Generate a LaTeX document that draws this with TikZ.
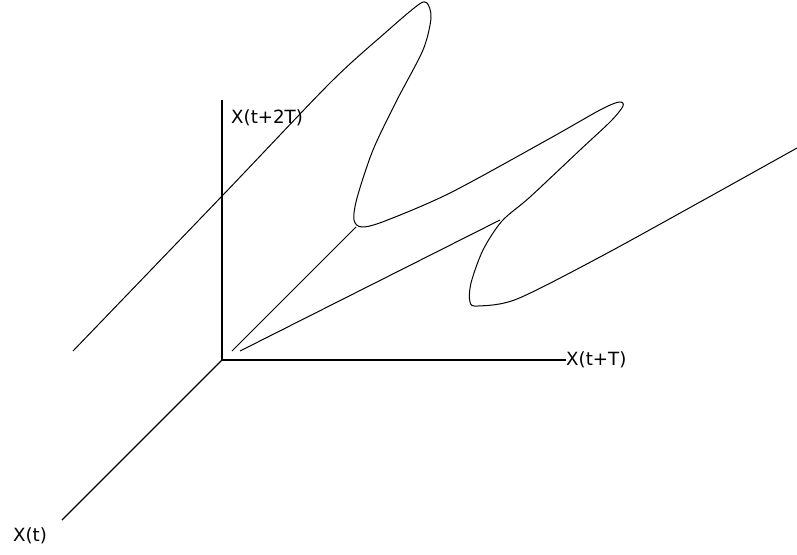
\documentclass[tikz,border=0pt]{standalone}
\usepackage{fontspec}
\setmainfont{DejaVu Sans}
\usetikzlibrary{positioning}

\begin{document}
\begin{tikzpicture}[x=1pt,y=-1pt,
  axis/.style={draw=black,line width=1.4pt},
  orbit/.style={draw=black,line width=1pt,line join=round},
  ray/.style={draw=black,line width=1pt},
  lbl/.style={font=\fontsize{18.2}{20}\selectfont,inner sep=0pt}
]
  \useasboundingbox (0,0) rectangle (797,554);

  % Axes
  \coordinate (O)    at (222,360);
  \coordinate (ztop) at (222,100);
  \coordinate (xend) at (566,360);
  \coordinate (tend) at (62,520);
  \draw[axis] (ztop) -- (O) -- (xend);
  \draw[axis] (O) -- (tend);
  \node[lbl,anchor=west] (zlab) at (231,118) {X(t+2T)};
  \node[lbl,anchor=west] (xlab) at (xend)    {X(t+T)};
  \node[lbl]             (tlab) at (30,536)  {X(t)};

  % Trajectory
  \draw[orbit] plot[smooth,tension=0.5] coordinates {
    (73,351) (223,195) (330,83) (385,33) (418,5) (427,3) (431,18) (423,50)
    (397,100) (373,150) (357,198) (354,220) (362,227) (385,221) (450,193)
    (547,140) (600,110) (619,102) (623,106) (611,121) (580,150) (530,197)
    (502,221) (483,250) (471,283) (470,302) (478,306) (517,299) (600,257)
    (700,202) (797,148)};

  % Rays to the turning points
  \coordinate (r1) at (232,351);
  \coordinate (r2) at (240,351);
  \coordinate (b1) at (356,227);
  \coordinate (b2) at (500,220);
  \draw[ray] (r1) -- (b1);
  \draw[ray] (r2) -- (b2);
\end{tikzpicture}
\end{document}
